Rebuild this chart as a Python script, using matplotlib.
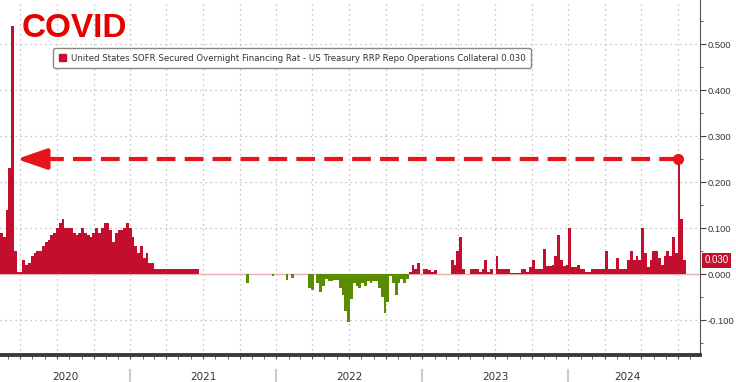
import numpy as np
import pandas as pd
import matplotlib
matplotlib.use('Agg')
import matplotlib.pyplot as plt
import matplotlib.dates as mdates
from matplotlib.patches import Patch

plt.rcParams['axes.unicode_minus'] = False

# weekly SOFR - RRP spread (pct), first week starting 2020-02-10
week_start = '2020-02-10'
spread = [
    0.09, 0.08, 0.14, 0.23, 0.54, 0.05, 0.005, 0.005, 0.03, 0.02,
    0.025, 0.04, 0.045, 0.05, 0.05, 0.06, 0.07, 0.075, 0.085, 0.09,
    0.10, 0.11, 0.12, 0.10, 0.10, 0.10, 0.09, 0.085, 0.09, 0.10,
    0.09, 0.085, 0.08, 0.09, 0.10, 0.09, 0.10, 0.11, 0.11, 0.095,
    0.07, 0.09, 0.095, 0.095, 0.10, 0.11, 0.10, 0.08, 0.06, 0.045,
    0.06, 0.035, 0.045, 0.025, 0.025, 0.012, 0.01, 0.01, 0.01, 0.01,
    0.01, 0.01, 0.01, 0.01, 0.01, 0.01, 0.01, 0.01, 0.01, 0.01,
    0.01, 0.0, 0.0, 0.0, 0.0, 0.0, 0.0, 0.0, 0.0, 0.0,
    0.0, 0.0, 0.0, 0.0, 0.0, 0.0, 0.0, 0.0, -0.02, 0.0,
    0.0, 0.0, 0.0, 0.0, 0.0, 0.0, 0.0, -0.005, 0.0, 0.0,
    0.0, 0.0, -0.012, 0.0, -0.008, 0.0, 0.0, 0.0, 0.0, 0.0,
    -0.03, -0.035, 0.0, -0.02, -0.04, -0.025, -0.01, -0.015, -0.015, -0.012,
    -0.012, -0.03, -0.045, -0.08, -0.105, -0.055, -0.02, -0.025, -0.03, -0.02,
    -0.025, -0.015, -0.02, -0.015, -0.015, -0.03, -0.05, -0.085, -0.06, -0.005,
    -0.02, -0.045, -0.02, -0.01, -0.02, -0.01, 0.005, 0.02, 0.01, 0.025,
    0.0, 0.01, 0.01, 0.008, 0.005, 0.008, 0.0, 0.0, 0.0, 0.0,
    0.0, 0.03, 0.02, 0.05, 0.08, 0.01, 0.0, 0.0, 0.01, 0.01,
    0.01, 0.005, 0.01, 0.03, 0.005, 0.01, 0.0, 0.04, 0.01, 0.01,
    0.01, 0.01, 0.002, 0.002, 0.002, 0.002, 0.01, 0.01, 0.005, 0.015,
    0.03, 0.01, 0.01, 0.01, 0.055, 0.018, 0.018, 0.02, 0.04, 0.085,
    0.03, 0.018, 0.02, 0.10, 0.015, 0.015, 0.02, 0.01, 0.01, 0.005,
    0.005, 0.01, 0.012, 0.01, 0.012, 0.01, 0.05, 0.01, 0.01, 0.01,
    0.035, 0.01, 0.01, 0.01, 0.03, 0.05, 0.03, 0.04, 0.03, 0.10,
    0.045, 0.015, 0.03, 0.05, 0.05, 0.035, 0.02, 0.04, 0.05, 0.04,
    0.08, 0.045, 0.25, 0.12, 0.03,
]
x_end = '2024-11-25'
years = ['2020', '2021', '2022', '2023', '2024']
y_ticks = [-0.1, 0.0, 0.1, 0.2, 0.3, 0.4, 0.5]
last_value = 0.030
legend_text = ('United States SOFR Secured Overnight Financing Rat - '
               'US Treasury RRP Repo Operations Collateral 0.030')
spike_day = '2024-10-01'
arrow_tip_day = '2020-03-23'
arrow_base_day = '2020-05-25'
arrow_level = 0.25

red = '#c40e2e'
green = '#5b8c00'
arrow_red = '#e8141c'

vals = np.array(spread)
edges = pd.date_range(week_start, periods=len(vals) + 1, freq='7D')
y_ext = np.append(vals, vals[-1])

fig = plt.figure(figsize=(7.36, 3.82), dpi=100)
ax = fig.add_axes([0, 27 / 382, 700 / 736, 355 / 382])

ax.axhline(0, color='#eab0b8', lw=1, zorder=1)
ax.fill_between(edges, np.clip(y_ext, 0, None), 0, step='post', color=red, lw=0, zorder=2)
ax.fill_between(edges, np.clip(y_ext, None, 0), 0, step='post', color=green, lw=0, zorder=2)

ax.set_xlim(edges[0], pd.Timestamp(x_end))
ax.set_ylim(-0.176, 0.5957)

# y axis on the right
ax.yaxis.tick_right()
ax.set_yticks(y_ticks)
ax.set_yticklabels(['%.3f' % v for v in y_ticks], family='Liberation Sans')
ax.set_yticks(np.arange(-0.15, 0.6, 0.05), minor=True)
ax.tick_params(axis='y', which='major', length=4, color='#444', labelsize=6.8,
               labelcolor='#333', pad=1.5)
ax.tick_params(axis='y', which='minor', length=2.5, color='#444')

# x axis: quarter gridlines, month ticks
ax.xaxis.set_major_locator(mdates.MonthLocator(bymonth=[1, 4, 7, 10]))
ax.xaxis.set_minor_locator(mdates.MonthLocator())
ax.tick_params(axis='x', which='both', labelbottom=False, length=3, color='#555')
ax.grid(True, which='major', color='#b4b4b4', linestyle=(0, (1, 3)), lw=0.9)
ax.set_axisbelow(True)

for s in ['top', 'left']:
    ax.spines[s].set_visible(False)
ax.spines['right'].set_color('#555')
ax.spines['bottom'].set_color('#3a3a3a')
ax.spines['bottom'].set_linewidth(2.8)

# year labels centred in their spans, separators at year starts
left_num = mdates.date2num(edges[0])
last_num = mdates.date2num(edges[-1])
bounds = [mdates.date2num(pd.Timestamp(y + '-01-01')) for y in years[1:]]
label_pos = [(left_num + bounds[0]) / 2]
for a, b in zip(bounds[:-1], bounds[1:]):
    label_pos.append((a + b) / 2)
label_pos.append((bounds[-1] + last_num) / 2)

secax = ax.secondary_xaxis(-0.04)
secax.spines['bottom'].set_visible(False)
secax.set_xticks(bounds)
secax.set_xticklabels([''] * len(bounds))
secax.set_xticks(label_pos, labels=years, minor=True)
secax.tick_params(which='major', length=10, width=1.6, color='#cccccc')
secax.tick_params(which='minor', length=0, pad=2, labelsize=7.5, labelcolor='#333')

# last value tag
ax.text(1.006, last_value, '%.3f' % last_value, transform=ax.get_yaxis_transform(),
        color='white', fontsize=7, family='Liberation Sans', va='center', ha='left',
        clip_on=False, bbox=dict(boxstyle='square,pad=0.25', fc=red, ec='none'))

# dashed arrow back to the covid spike
ax.plot([pd.Timestamp(spike_day), pd.Timestamp(arrow_base_day)], [arrow_level, arrow_level],
        color=arrow_red, lw=3, dashes=(4.5, 2.2), dash_capstyle='butt', zorder=5)
ax.plot([pd.Timestamp(spike_day)], [arrow_level], 'o', ms=7, color=arrow_red, zorder=6)
ax.annotate('', xy=(pd.Timestamp(arrow_tip_day), arrow_level),
            xytext=(pd.Timestamp(arrow_base_day), arrow_level),
            arrowprops=dict(arrowstyle='-|>,head_length=1.3,head_width=0.45',
                            color=arrow_red, lw=3, mutation_scale=14,
                            shrinkA=0, shrinkB=0), zorder=6)

leg = ax.legend(handles=[Patch(color=red)], labels=[legend_text], loc='upper left',
                bbox_to_anchor=(53 / 700, (355 - 48) / 355), fontsize=6.2,
                frameon=True, fancybox=True, edgecolor='#888888', framealpha=1,
                handlelength=0.9, handleheight=0.9, handletextpad=0.5,
                borderpad=0.65, borderaxespad=0)
for t in leg.get_texts():
    t.set_color('#333')

fig.text(22 / 736, (382 - 37) / 382, 'COVID', color='#e60000', fontsize=24,
         fontweight='bold', family='Liberation Sans', va='baseline')

fig.savefig('out.png', dpi=100)
